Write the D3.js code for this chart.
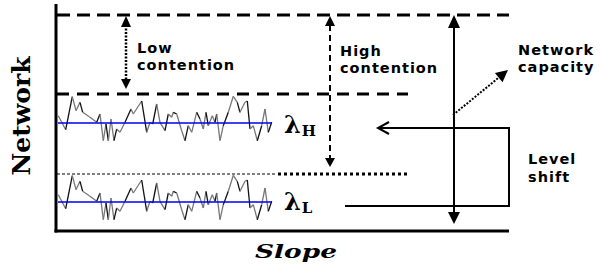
<!DOCTYPE html>
<html>
<head>
<meta charset="utf-8">
<script src="https://cdn.jsdelivr.net/npm/d3@7"></script>
<style>
  body { margin: 0; background: #fff; }
  svg { display: block; }
  .lbl { font-family: "DejaVu Sans", sans-serif; font-size: 14.5px; font-weight: bold; letter-spacing: 1px; fill: #000; }
</style>
</head>
<body>
<div id="chart"></div>
<script>
// levels (arbitrary units, 0 = bottom axis)
var levelNames  = ["capacity", "lowThreshold", "lambdaH", "highThreshold", "lambdaL"];
var levelValues = [216, 137, 108, 57, 29];

// noise trace: time positions and offsets from the mean level
var noiseT = [1.3, 8.7, 15.3, 19, 23, 25.7, 32.3, 39.7, 43, 46.3, 49, 51.3, 54, 57, 59.7, 63, 68,
  74, 76.3, 84.7, 89.7, 93, 95.7, 99.7, 103, 108, 111.3, 114.7, 116.3, 119.7, 124.7, 128, 131.3,
  134.7, 139.7, 143, 146.3, 149, 151.3, 155.3, 158, 159.7, 163, 166.3, 171.3, 176.3, 180.3, 183,
  188, 190.3, 193, 196.3, 200.3, 204.7, 208, 211.3, 214.7];
var noiseV = [7.3, -6.7, 26.3, 12.3, 20.7, 10.7, 6.3, 0.7, 9, -17.7, -1, -17.7, 4, -17.7, -6, -9.3, 0.7,
  14, 9, 22, -9.3, 0.7, -1, 19, 0.7, -7.7, 9, 5.7, 10.7, 9, -7.7, -17.7, -2.7,
  -9.3, 10.7, 4, -6, 10.7, -2.7, 7.3, 0.7, 9, -17.7, -2.7, 10.7, 26.7, 20.7, 10.7,
  20.7, 22, -6, -2.7, -17.7, -2.7, 14, -9.3, 0.7];

// x positions of guide lines / arrows (same time units)
var guideNames  = ["lowArrow", "highArrow", "capArrow", "traceEnd", "dashEnd", "shiftTip", "shiftBottom", "shiftEnd"];
var guideValues = [69, 273, 397, 215, 351, 321, 288, 452];

var lv = {}; levelNames.forEach(function(n, i) { lv[n] = levelValues[i]; });
var gx = {}; guideNames.forEach(function(n, i) { gx[n] = guideValues[i]; });

var W = 601, H = 276;
var x = d3.scaleLinear().domain([0, 452]).range([57, 509]);
var y = d3.scaleLinear().domain([0, 216]).range([231, 15]);

var svg = d3.select("#chart").append("svg")
    .attr("width", W)
    .attr("height", H);

// small helpers for arrowheads
function headDown(px, py, w, h) {
  return "M" + px + "," + py + "L" + (px - w / 2) + "," + (py - h) + "L" + (px + w / 2) + "," + (py - h) + "Z";
}
function headUp(px, py, w, h) {
  return "M" + px + "," + py + "L" + (px - w / 2) + "," + (py + h) + "L" + (px + w / 2) + "," + (py + h) + "Z";
}

// dashed level lines
svg.append("line")
    .attr("x1", x(0)).attr("x2", x(452))
    .attr("y1", y(lv.capacity)).attr("y2", y(lv.capacity))
    .attr("stroke", "#000").attr("stroke-width", 3)
    .attr("stroke-dasharray", "13,7");
svg.append("line")
    .attr("x1", x(0)).attr("x2", x(gx.dashEnd))
    .attr("y1", y(lv.lowThreshold)).attr("y2", y(lv.lowThreshold))
    .attr("stroke", "#000").attr("stroke-width", 3)
    .attr("stroke-dasharray", "12,8");
svg.append("line")
    .attr("x1", x(0)).attr("x2", x(gx.traceEnd + 3))
    .attr("y1", y(lv.highThreshold)).attr("y2", y(lv.highThreshold))
    .attr("stroke", "#000").attr("stroke-width", 1)
    .attr("stroke-dasharray", "3,2");
svg.append("line")
    .attr("x1", x(gx.traceEnd + 6)).attr("x2", x(gx.dashEnd))
    .attr("y1", y(lv.highThreshold)).attr("y2", y(lv.highThreshold))
    .attr("stroke", "#000").attr("stroke-width", 3)
    .attr("stroke-dasharray", "3,3");

// noisy traces
var pts = noiseT.map(function(t, i) { return [t, noiseV[i]]; });
[lv.lambdaH, lv.lambdaL].forEach(function(base) {
  var g = svg.append("g");
  for (var i = 0; i < pts.length - 1; i++) {
    g.append("line")
        .attr("x1", x(pts[i][0])).attr("y1", y(base + pts[i][1]))
        .attr("x2", x(pts[i + 1][0])).attr("y2", y(base + pts[i + 1][1]))
        .attr("stroke", i % 3 === 1 ? "#111" : "#777")
        .attr("stroke-width", 1.3);
  }
  g.append("line")
      .attr("x1", x(1)).attr("x2", x(gx.traceEnd))
      .attr("y1", y(base)).attr("y2", y(base))
      .attr("stroke", "#0000ee").attr("stroke-width", 1.3);
});

// low contention arrow (dotted, both heads)
svg.append("line")
    .attr("x1", x(gx.lowArrow)).attr("x2", x(gx.lowArrow))
    .attr("y1", y(lv.capacity) + 10).attr("y2", y(lv.lowThreshold) - 12)
    .attr("stroke", "#000").attr("stroke-width", 2.5)
    .attr("stroke-dasharray", "2,1.5");
svg.append("path").attr("d", headUp(x(gx.lowArrow), y(lv.capacity) + 1, 10, 11));
svg.append("path").attr("d", headDown(x(gx.lowArrow), y(lv.lowThreshold) - 5, 10, 10));

// high contention arrow (dashed)
svg.append("line")
    .attr("x1", x(gx.highArrow)).attr("x2", x(gx.highArrow))
    .attr("y1", y(lv.capacity) + 10).attr("y2", y(lv.highThreshold) - 14)
    .attr("stroke", "#000").attr("stroke-width", 2)
    .attr("stroke-dasharray", "6,4");
svg.append("path").attr("d", headUp(x(gx.highArrow), y(lv.capacity) + 1, 10, 10));
svg.append("path").attr("d", headDown(x(gx.highArrow), y(lv.highThreshold) - 7, 10, 9));

// network capacity arrow (solid, both heads)
svg.append("line")
    .attr("x1", x(gx.capArrow)).attr("x2", x(gx.capArrow))
    .attr("y1", y(lv.capacity) + 8).attr("y2", y(0) - 12)
    .attr("stroke", "#000").attr("stroke-width", 2);
svg.append("path").attr("d", headUp(x(gx.capArrow), y(lv.capacity), 12, 13));
svg.append("path").attr("d", headDown(x(gx.capArrow), y(0) - 7, 12, 12));

// dotted pointer to "Network capacity"
var p0 = [x(gx.capArrow) - 1, y(lv.lambdaH) - 8], p1 = [x(gx.shiftEnd) - 1, y(lv.capacity) + 55];
var ang = Math.atan2(p1[1] - p0[1], p1[0] - p0[0]);
svg.append("line")
    .attr("x1", p0[0]).attr("y1", p0[1])
    .attr("x2", p1[0] - 9 * Math.cos(ang)).attr("y2", p1[1] - 9 * Math.sin(ang))
    .attr("stroke", "#000").attr("stroke-width", 2)
    .attr("stroke-dasharray", "2,1.5");
svg.append("path")
    .attr("d", "M0,0L-12,-6L-12,6Z")
    .attr("transform", "translate(" + p1[0] + "," + p1[1] + ") rotate(" + (ang * 180 / Math.PI) + ")");

// level shift bracket
var shiftTop = y(lv.lambdaH) + 5, shiftBot = y(lv.lambdaL) + 4;
svg.append("path")
    .attr("d", "M" + x(gx.shiftTip) + "," + shiftTop + "L" + x(gx.shiftEnd) + "," + shiftTop +
               "L" + x(gx.shiftEnd) + "," + shiftBot + "L" + x(gx.shiftBottom) + "," + shiftBot)
    .attr("fill", "none").attr("stroke", "#000").attr("stroke-width", 2);
svg.append("path")
    .attr("d", "M" + (x(gx.shiftTip) + 11) + "," + (shiftTop - 6) + "L" + x(gx.shiftTip) + "," + shiftTop +
               "L" + (x(gx.shiftTip) + 11) + "," + (shiftTop + 6))
    .attr("fill", "none").attr("stroke", "#000").attr("stroke-width", 2);

// axes
svg.append("line")
    .attr("x1", x(0) - 1).attr("x2", x(0) - 1)
    .attr("y1", 4).attr("y2", y(0) + 1.5)
    .attr("stroke", "#000").attr("stroke-width", 3);
svg.append("line")
    .attr("x1", x(0) - 2.5).attr("x2", x(452))
    .attr("y1", y(0)).attr("y2", y(0))
    .attr("stroke", "#000").attr("stroke-width", 3);

// labels
function twoLine(px, py, a, b, dy) {
  var t = svg.append("text").attr("class", "lbl").attr("x", px).attr("y", py);
  t.append("tspan").attr("x", px).text(a);
  t.append("tspan").attr("x", px).attr("dy", dy).text(b);
}
twoLine(137, 53, "Low", "contention", 17);
twoLine(340, 56, "High", "contention", 17);
twoLine(518, 55, "Network", "capacity", 17);
twoLine(528, 164, "Level", "shift", 18);

function lambda(py, sub) {
  var t = svg.append("text")
      .attr("x", 284).attr("y", py)
      .style("font-family", "'DejaVu Serif', serif")
      .style("font-weight", "bold")
      .style("font-size", "24px");
  t.append("tspan").text("λ");
  t.append("tspan").attr("dx", 1).attr("dy", 3).style("font-size", "15px").text(sub);
}
lambda(y(lv.lambdaH) + 10, "H");
lambda(y(lv.lambdaL) + 8, "L");

svg.append("text")
    .attr("transform", "translate(30,116) rotate(-90)")
    .attr("text-anchor", "middle")
    .style("font-family", "'DejaVu Serif', serif")
    .style("font-weight", "bold")
    .style("font-size", "25px")
    .text("Network");

svg.append("text")
    .attr("x", 255).attr("y", 258)
    .attr("textLength", 82).attr("lengthAdjust", "spacingAndGlyphs")
    .style("font-family", "'DejaVu Serif', serif")
    .style("font-weight", "bold")
    .style("font-style", "italic")
    .style("font-size", "18px")
    .text("Slope");
</script>
</body>
</html>
